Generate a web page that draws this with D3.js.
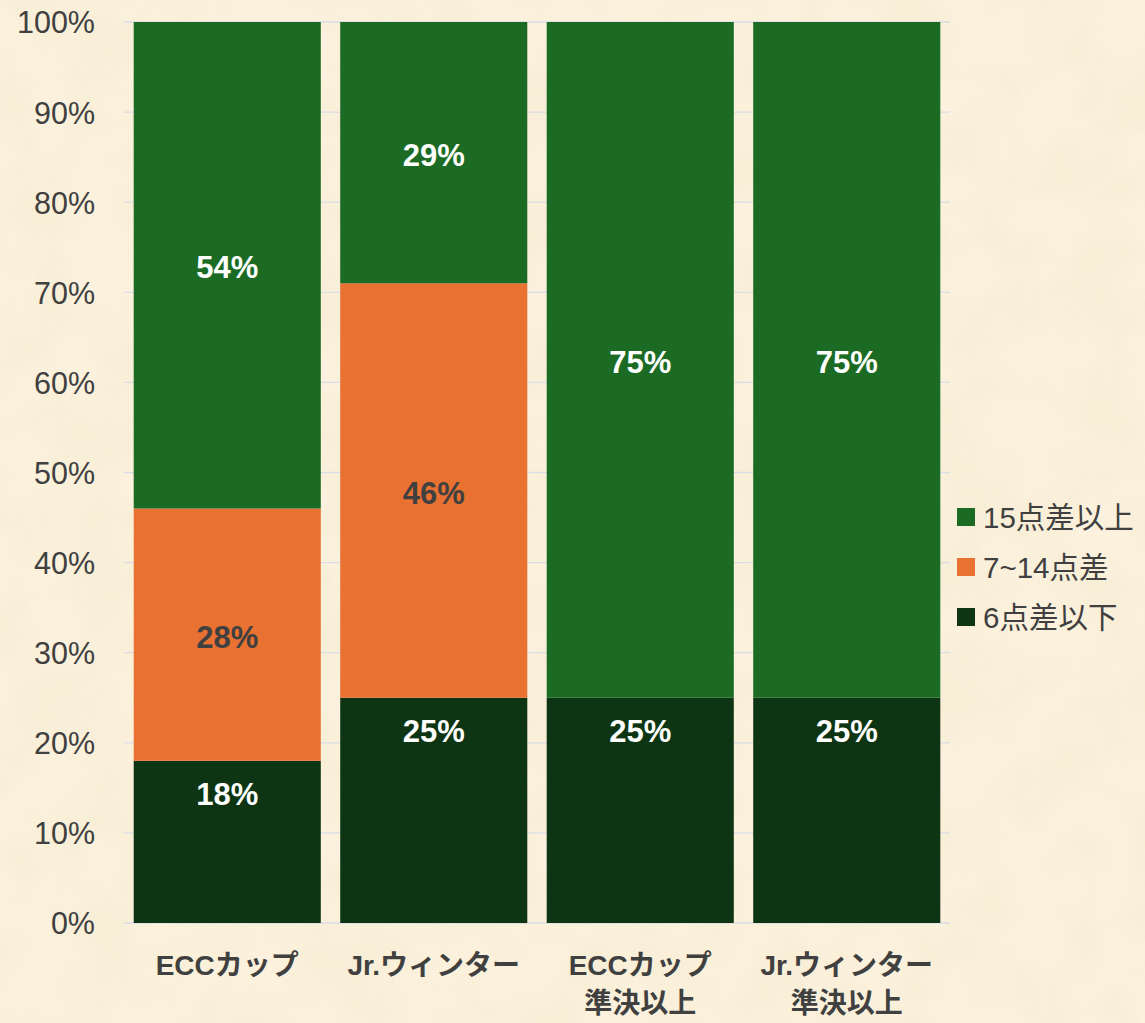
<!DOCTYPE html>
<html><head><meta charset="utf-8">
<script src="https://cdn.jsdelivr.net/npm/d3@7"></script>
<style>
html,body{margin:0;padding:0;background:#f9f0da;}
svg{display:block;font-family:"Liberation Sans",Arial,"Noto Sans CJK JP",sans-serif;}
</style></head><body>
<svg id="c" width="1145" height="1023"></svg>
<script>
const categories = [["ECCカップ"],["Jr.ウィンター"],["ECCカップ","準決以上"],["Jr.ウィンター","準決以上"]];
const seriesNames = ["6点差以下","7~14点差","15点差以上"];
const low = [18,25,25,25];
const mid = [28,46,0,0];
const high = [54,29,75,75];
const yTicks = [0,10,20,30,40,50,60,70,80,90,100];
const colors = ["#0e3513","#e97132","#1b6b24"];
const labelColors = ["#ffffff","#404040","#ffffff"];

const svg = d3.select("#c");
const W=1145,H=1023;
// background texture
const defs = svg.append("defs");
const f = defs.append("filter").attr("id","tex").attr("x",0).attr("y",0).attr("width","100%").attr("height","100%");
f.append("feTurbulence").attr("type","fractalNoise").attr("baseFrequency","0.015").attr("numOctaves",4).attr("seed",7).attr("result","n");
f.append("feColorMatrix").attr("in","n").attr("type","matrix")
 .attr("values","0 0 0 0 0.90  0 0 0 0 0.82  0 0 0 0 0.62  0 0 0 1.6 -0.55");
svg.append("rect").attr("width",W).attr("height",H).attr("fill","#fbf1dc");
svg.append("rect").attr("width",W).attr("height",H).attr("filter","url(#tex)").attr("opacity",0.5);

const x = d3.scaleBand().domain(d3.range(categories.length)).range([124,950]).paddingInner(0.094).paddingOuter(0.047);
const y = d3.scaleLinear().domain([0,100]).range([923,22]);

// gridlines
svg.append("g").selectAll("line").data(yTicks).join("line")
 .attr("x1",124).attr("x2",950).attr("y1",d=>y(d)).attr("y2",d=>y(d))
 .attr("stroke","#d9dde6").attr("stroke-width",1.3);

// y axis labels
const yAxis = d3.axisLeft(y).tickValues(yTicks).tickFormat(d=>d+"%").tickSize(0).tickPadding(0);
const ya = svg.append("g").attr("transform","translate(95,0)").call(yAxis);
ya.select(".domain").remove();
ya.attr("font-size",null).attr("font-family",null);
ya.selectAll("text").attr("font-size",30.5).attr("fill","#404040").attr("font-family","Liberation Sans, Arial, sans-serif").attr("dy","0.36em");

const rows = categories.map((c,i)=>({i,low:low[i],mid:mid[i],high:high[i]}));
const stack = d3.stack().keys(["low","mid","high"])(rows);

stack.forEach((s,k)=>{
  svg.append("g").selectAll("rect").data(s.filter(d=>d[1]>d[0])).join("rect")
   .attr("x",d=>x(d.data.i)).attr("width",x.bandwidth())
   .attr("y",d=>y(d[1])).attr("height",d=>y(d[0])-y(d[1]))
   .attr("fill",colors[k]);
});
stack.forEach((s,k)=>{
  svg.append("g").selectAll("text").data(s.filter(d=>d[1]>d[0])).join("text")
   .attr("x",d=>x(d.data.i)+x.bandwidth()/2)
   .attr("y",d=> k===0 ? y(d[1])+33 : (y(d[0])+y(d[1]))/2+2)
   .attr("dy","0.36em").attr("text-anchor","middle")
   .attr("font-size",31).attr("font-weight","bold").attr("fill",labelColors[k])
   .text(d=>(d[1]-d[0])+"%");
});

// category labels
const cg = svg.append("g");
categories.forEach((lines,i)=>{
  lines.forEach((t,j)=>{
    cg.append("text").attr("x",x(i)+x.bandwidth()/2).attr("y",965+j*38).attr("dy","0.36em")
     .attr("text-anchor","middle").attr("font-size",28).attr("font-weight","bold").attr("fill","#404040")
     .attr("font-family","'Liberation Sans', 'Noto Sans CJK JP', sans-serif")
     .text(t);
  });
});

// legend
const legendOrder = [2,1,0];
const lg = svg.append("g");
legendOrder.forEach((k,j)=>{
  const cy = 517 + j*50;
  lg.append("rect").attr("x",957).attr("y",cy-9).attr("width",18).attr("height",18).attr("fill",colors[k]);
  lg.append("text").attr("x",983).attr("y",cy).attr("dy","0.36em").attr("font-size",29.5).attr("fill","#404040")
   .attr("font-family","'Liberation Sans', 'Noto Sans CJK JP', sans-serif").text(seriesNames[k]);
});
</script>
</body></html>
